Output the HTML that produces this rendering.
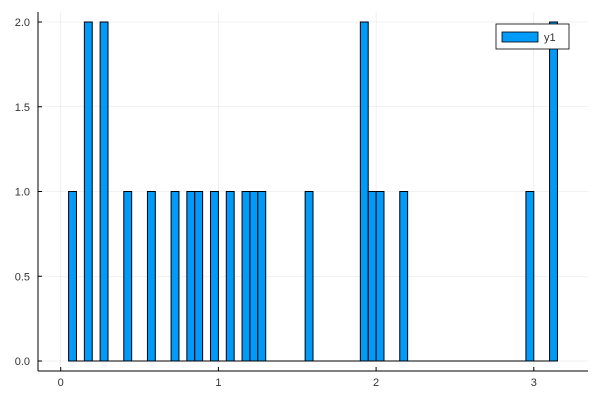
<!DOCTYPE html>
<html><head><meta charset="utf-8"><style>
body{margin:0;background:#fff}
text{font-family:"Liberation Sans",sans-serif;font-size:11px;fill:#333}
</style></head><body>
<svg id="c" width="600" height="400" xmlns="http://www.w3.org/2000/svg"></svg>
<script>
const binStarts=[0.05,0.15,0.25,0.40,0.55,0.70,0.80,0.85,0.95,1.05,1.15,1.20,1.25,1.55,1.90,1.95,2.00,2.15,2.95,3.10];
const counts=[1,2,2,1,1,1,1,1,1,1,1,1,1,1,2,1,1,1,1,2];
const binWidth=0.05;
const xTicks=[0,1,2,3];
const xTickLabels=["0","1","2","3"];
const yTicks=[0,0.5,1,1.5,2];
const yTickLabels=["0.0","0.5","1.0","1.5","2.0"];
const NS="http://www.w3.org/2000/svg";
const svg=document.getElementById('c');
const X=v=>60.7+v*157.7;
const Y=v=>361-v*169.5;
function mk(t,a,p){const e=document.createElementNS(NS,t);for(const k in a)e.setAttribute(k,a[k]);(p||svg).appendChild(e);return e;}
const L=38,R=588,T=12,B=371;
xTicks.forEach((v,i)=>{
 const g=mk('line',{x1:X(v),x2:X(v),y1:T,y2:B,stroke:'#000','stroke-opacity':0.1,'stroke-width':0.6});
 
 
 const tk=mk('line',{x1:X(v),x2:X(v),y1:B,y2:B-4,stroke:'#000','stroke-width':1});
 
 
 const t=mk('text',{x:X(v),y:B+15,'text-anchor':'middle'});t.textContent=xTickLabels[i];
 
 
});
yTicks.forEach((v,i)=>{
 const g=mk('line',{x1:L,x2:R,y1:Y(v),y2:Y(v),stroke:'#000','stroke-opacity':0.1,'stroke-width':0.6});
 
 
 const tk=mk('line',{x1:L,x2:L+4,y1:Y(v),y2:Y(v),stroke:'#000','stroke-width':1});
 
 
 const t=mk('text',{x:L-8,y:Y(v)+4,'text-anchor':'end'});t.textContent=yTickLabels[i];
 
 
});
// baseline of histogram
const bl=mk('line',{x1:X(binStarts[0]),x2:X(binStarts[binStarts.length-1]+binWidth),y1:Y(0),y2:Y(0),stroke:'#000','stroke-width':1});


binStarts.forEach((s,i)=>{
 const x1=X(s),x2=X(s+binWidth);
 const r=mk('rect',{x:x1,y:Y(counts[i]),width:x2-x1,height:Y(0)-Y(counts[i]),fill:'#009af9',stroke:'#000','stroke-width':1});
 
 
});
const ax=mk('line',{x1:L,x2:R,y1:B,y2:B,stroke:'#000','stroke-width':1});


const ay=mk('line',{x1:L,x2:L,y1:T,y2:B,stroke:'#000','stroke-width':1});


const lg=mk('g',{});


mk('rect',{x:496,y:24,width:73,height:25,fill:'#fff',stroke:'#000','stroke-width':0.8},lg);
const sw=mk('rect',{x:502,y:32,width:36,height:10,fill:'#009af9',stroke:'#000','stroke-width':0.8},lg);


const lt=mk('text',{x:544,y:41},lg);lt.textContent='y1';


</script>
</body></html>
